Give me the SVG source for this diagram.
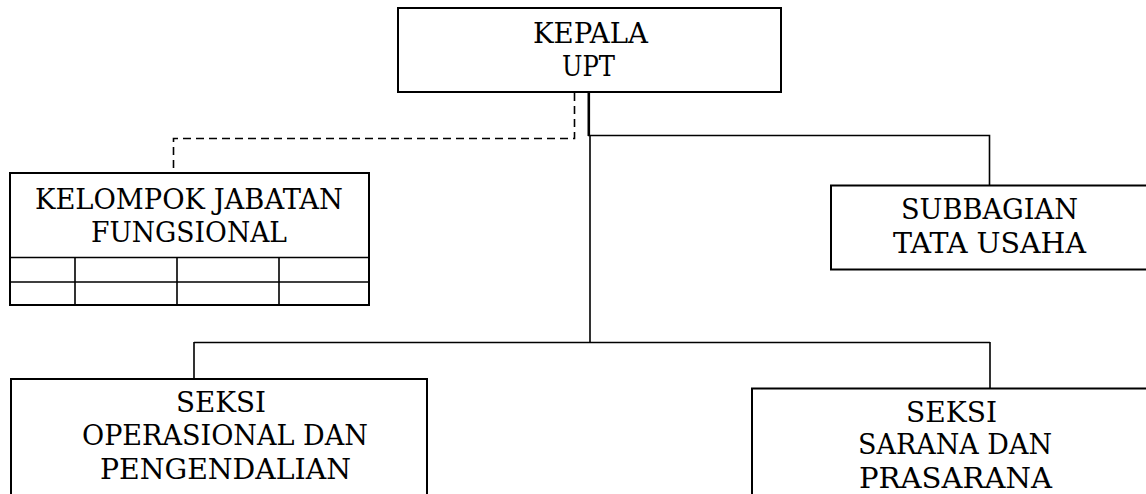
<svg xmlns="http://www.w3.org/2000/svg" width="1146" height="494" viewBox="0 0 1146 494">
<style>
.box{fill:#fff;stroke:#000;stroke-width:2}
.ln{fill:none;stroke:#000;stroke-width:1.6}
.dash{fill:none;stroke:#000;stroke-width:1.6;stroke-dasharray:8 5}
text{font-family:"DejaVu Serif","Liberation Serif",serif;font-size:27.5px;fill:#000;text-anchor:middle}
</style>
<rect width="1146" height="494" fill="#fff"/>
<g id="connectors">
<path class="dash" d="M574.5,93 V138.5 H173.5 V172"/>
<path d="M588.8,93 V136" fill="none" stroke="#000" stroke-width="2.6"/>
<path class="ln" d="M590,135 V342.5 M588,135.5 H989.5 V185 M194,342.5 H990 M194,342 V379 M990,342 V388"/>
</g>
<g id="kepala">
<rect class="box" x="398" y="8" width="383" height="84"/>
<text x="590.5" y="43" textLength="115" lengthAdjust="spacingAndGlyphs">KEPALA</text>
<text x="588.5" y="76" textLength="53" lengthAdjust="spacingAndGlyphs">UPT</text>
</g>
<g id="kelompok">
<rect class="box" x="10" y="173" width="359" height="132"/>
<path class="ln" d="M10,257.5 H369 M10,282 H369 M75,257 V305 M177,257 V305 M279,257 V305"/>
<text x="189" y="209" textLength="308" lengthAdjust="spacingAndGlyphs">KELOMPOK JABATAN</text>
<text x="189" y="242" textLength="196" lengthAdjust="spacingAndGlyphs">FUNGSIONAL</text>
</g>
<g id="subbagian">
<rect class="box" x="831" y="185.5" width="330" height="84"/>
<text x="989.5" y="219" textLength="177" lengthAdjust="spacingAndGlyphs">SUBBAGIAN</text>
<text x="989.5" y="253" textLength="193" lengthAdjust="spacingAndGlyphs">TATA USAHA</text>
</g>
<g id="seksi-operasional">
<rect class="box" x="11" y="379" width="416" height="130"/>
<text x="221" y="412" textLength="90" lengthAdjust="spacingAndGlyphs">SEKSI</text>
<text x="225" y="445" textLength="286" lengthAdjust="spacingAndGlyphs">OPERASIONAL DAN</text>
<text x="225.5" y="479" textLength="251" lengthAdjust="spacingAndGlyphs">PENGENDALIAN</text>
</g>
<g id="seksi-sarana">
<rect class="box" x="752" y="388.5" width="410" height="120"/>
<text x="951.5" y="422" textLength="91" lengthAdjust="spacingAndGlyphs">SEKSI</text>
<text x="955" y="454" textLength="194" lengthAdjust="spacingAndGlyphs">SARANA DAN</text>
<text x="955.5" y="488" textLength="193" lengthAdjust="spacingAndGlyphs">PRASARANA</text>
</g>
</svg>
